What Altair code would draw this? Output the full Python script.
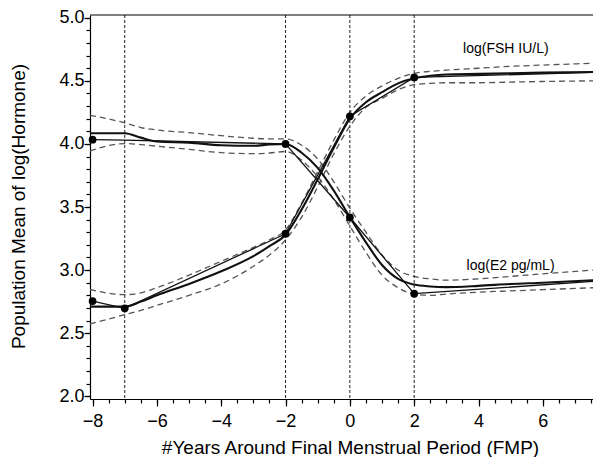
import altair as alt
import pandas as pd

# ---------------- data ----------------
X_DOMAIN = [-8.08, 7.56]
Y_DOMAIN = [1.978, 5.022]

VLINE_X = [-7, -2, 0, 2]

X_MAJOR = [-8, -6, -4, -2, 0, 2, 4, 6]
X_MINOR = [-8, -7.5, -7, -6.5, -6, -5.5, -5, -4.5, -4, -3.5, -3, -2.5, -2, -1.5, -1, -0.5,
           0, 0.5, 1, 1.5, 2, 2.5, 3, 3.5, 4, 4.5, 5, 5.5, 6, 6.5, 7, 7.5]
Y_MAJOR = [2.0, 2.5, 3.0, 3.5, 4.0, 4.5, 5.0]
Y_MINOR = [2.0, 2.1, 2.2, 2.3, 2.4, 2.5, 2.6, 2.7, 2.8, 2.9, 3.0, 3.1, 3.2, 3.3, 3.4, 3.5,
           3.6, 3.7, 3.8, 3.9, 4.0, 4.1, 4.2, 4.3, 4.4, 4.5, 4.6, 4.7, 4.8, 4.9, 5.0]

# smooth (nonparametric) curves and their confidence bands
SMOOTH_X = [-8.08, -7, -6.5, -6, -5, -4, -3, -2.5, -2, -1.5, -1, -0.5,
            0, 0.5, 1, 1.5, 2, 2.5, 3, 4, 5, 6, 7.56]
FSH_SMOOTH = [2.71, 2.71, 2.75, 2.80, 2.89, 2.99, 3.11, 3.19, 3.28, 3.48, 3.72, 3.97,
              4.20, 4.33, 4.41, 4.48, 4.52, 4.54, 4.55, 4.555, 4.56, 4.565, 4.57]
FSH_UPPER = [2.846, 2.805, 2.82, 2.86, 2.96, 3.07, 3.18, 3.24, 3.32, 3.53, 3.78, 4.03,
             4.25, 4.38, 4.46, 4.52, 4.56, 4.575, 4.585, 4.60, 4.615, 4.625, 4.64]
FSH_LOWER = [2.574, 2.646, 2.68, 2.72, 2.80, 2.89, 3.03, 3.12, 3.24, 3.42, 3.66, 3.92,
             4.14, 4.29, 4.36, 4.43, 4.47, 4.48, 4.485, 4.485, 4.49, 4.495, 4.50]
E2_SMOOTH = [4.085, 4.085, 4.05, 4.02, 4.01, 3.99, 3.985, 3.995, 4.0, 3.93, 3.81, 3.63,
             3.42, 3.22, 3.04, 2.93, 2.885, 2.87, 2.865, 2.875, 2.89, 2.90, 2.92]
E2_UPPER = [4.227, 4.167, 4.13, 4.11, 4.09, 4.065, 4.045, 4.04, 4.04, 3.99, 3.88, 3.70,
            3.49, 3.30, 3.12, 3.00, 2.95, 2.93, 2.92, 2.93, 2.95, 2.97, 3.0]
E2_LOWER = [3.944, 4.003, 3.995, 3.982, 3.957, 3.931, 3.923, 3.928, 3.94, 3.87, 3.74, 3.56,
            3.35, 3.14, 2.96, 2.86, 2.81, 2.80, 2.81, 2.825, 2.835, 2.845, 2.86]

# piecewise-linear model
FSH_LIN_X = [-8, -7, -2, 0, 2, 7.56]
FSH_LIN_Y = [2.754, 2.697, 3.288, 4.219, 4.527, 4.568]
E2_LIN_X = [-8, -7, -2, 0, 2, 7.56]
E2_LIN_Y = [4.034, 4.03, 4.0, 3.417, 2.813, 2.91]

# knot points
FSH_PT_X = [-8, -7, -2, 0, 2]
FSH_PT_Y = [2.754, 2.697, 3.288, 4.219, 4.527]
E2_PT_X = [-8, -2, 0, 2]
E2_PT_Y = [4.034, 4.0, 3.417, 2.813]

LABEL_TEXT = ["log(FSH IU/L)", "log(E2 pg/mL)"]
LABEL_X = [3.52, 3.63]
LABEL_Y = [4.722, 2.998]

X_TITLE = "#Years Around Final Menstrual Period (FMP)"
Y_TITLE = "Population Mean of log(Hormone)"

FONT = "Liberation Sans"

# ---------------- tables ----------------
def long(xs, ys, name):
    return pd.DataFrame({"x": xs, "y": ys, "s": name})

bands = pd.concat([long(SMOOTH_X, FSH_UPPER, "fu"), long(SMOOTH_X, FSH_LOWER, "fl"),
                   long(SMOOTH_X, E2_UPPER, "eu"), long(SMOOTH_X, E2_LOWER, "el")])
smooth = pd.concat([long(SMOOTH_X, FSH_SMOOTH, "fs"), long(SMOOTH_X, E2_SMOOTH, "es")])
linear = pd.concat([long(FSH_LIN_X, FSH_LIN_Y, "fl"), long(E2_LIN_X, E2_LIN_Y, "el")])
points = pd.concat([long(FSH_PT_X, FSH_PT_Y, "f"), long(E2_PT_X, E2_PT_Y, "e")])
labels = pd.DataFrame({"x": LABEL_X, "y": LABEL_Y, "t": LABEL_TEXT})

xs = alt.Scale(domain=X_DOMAIN, nice=False, zero=False)
ys = alt.Scale(domain=Y_DOMAIN, nice=False, zero=False)

x_plain = alt.X("x:Q", scale=xs, axis=None)
y_plain = alt.Y("y:Q", scale=ys, axis=None)

PLOT_H = 384

x_axis = alt.Axis(orient="bottom", values=X_MAJOR, format="d", tickSize=7, tickWidth=1.2,
                  tickColor="#000", domainColor="#000", domainWidth=1.2, labelFontSize=18,
                  labelFont=FONT, labelColor="#000", labelPadding=6, grid=False, title=X_TITLE,
                  titleFont=FONT, titleFontSize=19, titleFontWeight="normal", titleColor="#000",
                  titleX=260, titleY=54, titleAlign="center", titleBaseline="alphabetic")
y_axis = alt.Axis(orient="left", values=Y_MAJOR, format=".1f", tickSize=6, tickWidth=1.2,
                  tickColor="#000", domainColor="#000", domainWidth=1.2, labelFontSize=18,
                  labelFont=FONT, labelColor="#000", labelPadding=0, grid=False, title=Y_TITLE,
                  titleFont=FONT, titleFontSize=19, titleFontWeight="normal", titleColor="#000",
                  titleX=-66, titleY=191, titleAngle=-90, titleAlign="center",
                  titleBaseline="alphabetic")

band_layer = alt.Chart(bands).mark_line(
    color="#555", strokeWidth=1.3, strokeDash=[6, 4], interpolate="monotone"
).encode(x=alt.X("x:Q", scale=xs, axis=x_axis), y=alt.Y("y:Q", scale=ys, axis=y_axis),
         detail="s:N")

vlines = alt.Chart(pd.DataFrame({"x": VLINE_X})).mark_rule(
    color="#222", strokeWidth=1, strokeDash=[3, 2]
).encode(x=x_plain)

top_rule = alt.Chart(pd.DataFrame({"y": [Y_DOMAIN[1]]})).mark_rule(
    color="#000", strokeWidth=1.2
).encode(y=y_plain)

smooth_layer = alt.Chart(smooth).mark_line(
    color="#111", strokeWidth=2.1, interpolate="monotone"
).encode(x=x_plain, y=y_plain, detail="s:N")

linear_layer = alt.Chart(linear).mark_line(
    color="#111", strokeWidth=1.3
).encode(x=x_plain, y=y_plain, detail="s:N")

point_layer = alt.Chart(points).mark_circle(
    color="#000", opacity=1, size=60
).encode(x=x_plain, y=y_plain)

text_layer = alt.Chart(labels).mark_text(
    align="left", baseline="alphabetic", font=FONT, fontSize=14, color="#000"
).encode(x=x_plain, y=y_plain, text="t:N")

minor = alt.Chart(pd.DataFrame({"x": [0.0], "y": [3.0]})).mark_point(opacity=0).encode(
    x=alt.X("x:Q", scale=xs,
            axis=alt.Axis(orient="bottom", values=X_MINOR, labels=False, domain=False,
                          tickSize=4, tickWidth=1.2, tickColor="#000", grid=False, title=None)),
    y=alt.Y("y:Q", scale=ys,
            axis=alt.Axis(orient="left", values=Y_MINOR, labels=False, domain=False,
                          tickSize=4, tickWidth=1.2, tickColor="#000", grid=False, title=None)),
)

chart = alt.layer(band_layer, minor, vlines, top_rule, smooth_layer, linear_layer,
                  point_layer, text_layer).resolve_axis(
    x="independent", y="independent"
).properties(
    width=503, height=PLOT_H,
    padding={"left": 82, "top": 7, "right": 0, "bottom": 58},
    autosize=alt.AutoSizeParams(type="none"),
    background="white",
).configure_view(stroke=None)

chart.save("out.html", embed_options={"renderer": "svg", "actions": False})
